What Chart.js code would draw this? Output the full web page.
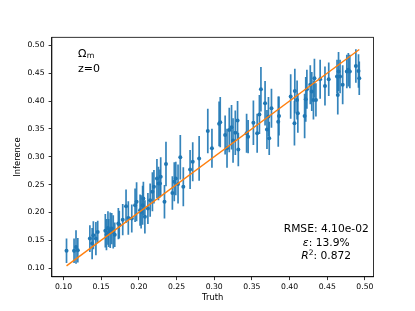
<!DOCTYPE html>
<html><head><meta charset="utf-8">
<script src="https://cdn.jsdelivr.net/npm/chart.js@4/dist/chart.umd.min.js"></script>
<style>html,body{margin:0;padding:0;background:#fff}canvas{display:block}</style>
</head><body>
<canvas id="c" width="415" height="311"></canvas>
<script>
// ---- data ----
const truth = [0.104,0.114,0.1166,0.119,0.135,0.138,0.1396,0.143,0.1454,0.1555,
  0.157,0.159,0.160,0.162,0.164,0.166,0.168,0.1728,0.174,0.1786,
  0.183,0.186,0.1906,0.195,0.197,0.2016,0.203,0.205,0.206,0.208,
  0.212,0.215,0.218,0.220,0.224,0.226,0.228,0.229,0.234,0.236,
  0.2445,0.247,0.249,0.252,0.255,0.259,0.268,0.2715,0.280,0.2915,
  0.297,0.3065,0.308,0.3145,0.317,0.320,0.323,0.325,0.328,0.331,
  0.332,0.343,0.345,0.352,0.357,0.360,0.362,0.3675,0.370,0.372,
  0.373,0.376,0.385,0.386,0.4015,0.4065,0.407,0.410,0.411,0.420,
  0.4215,0.423,0.4275,0.4295,0.4317,0.433,0.435,0.4406,0.447,0.452,
  0.463,0.464,0.465,0.467,0.4705,0.476,0.478,0.480,0.488,0.4915,0.4925];
const inference = [0.131,0.131,0.138,0.132,0.153,0.144,0.159,0.153,0.165,0.167,
  0.160,0.172,0.163,0.168,0.171,0.165,0.160,0.180,0.178,0.187,
  0.211,0.190,0.189,0.213,0.219,0.204,0.201,0.213,0.225,0.192,
  0.207,0.222,0.237,0.246,0.261,0.252,0.252,0.264,0.219,0.287,
  0.235,0.255,0.261,0.251,0.299,0.246,0.277,0.291,0.297,0.346,
  0.315,0.359,0.362,0.339,0.315,0.348,0.353,0.329,0.343,0.365,
  0.313,0.342,0.336,0.361,0.342,0.376,0.421,0.396,0.349,0.372,
  0.333,0.387,0.363,0.373,0.408,0.360,0.418,0.402,0.378,0.373,
  0.403,0.421,0.429,0.417,0.402,0.441,0.402,0.439,0.427,0.439,
  0.444,0.411,0.453,0.444,0.429,0.453,0.456,0.453,0.463,0.454,0.441];
const sigma = [0.022,0.022,0.030,0.022,0.024,0.028,0.025,0.030,0.020,0.030,
  0.028,0.030,0.025,0.032,0.028,0.030,0.022,0.028,0.025,0.028,
  0.030,0.030,0.025,0.030,0.035,0.028,0.030,0.035,0.030,0.030,
  0.028,0.030,0.035,0.030,0.035,0.030,0.025,0.035,0.030,0.040,
  0.030,0.035,0.030,0.035,0.040,0.035,0.035,0.035,0.040,0.040,
  0.035,0.040,0.045,0.035,0.035,0.040,0.040,0.040,0.040,0.035,
  0.030,0.035,0.030,0.040,0.035,0.035,0.040,0.040,0.035,0.035,
  0.030,0.035,0.045,0.035,0.040,0.040,0.040,0.035,0.035,0.040,
  0.040,0.035,0.035,0.035,0.035,0.035,0.030,0.035,0.035,0.030,
  0.030,0.035,0.035,0.030,0.035,0.030,0.030,0.030,0.030,0.030,0.030];
const xTicks = [0.10,0.15,0.20,0.25,0.30,0.35,0.40,0.45,0.50];
const yTicks = [0.10,0.15,0.20,0.25,0.30,0.35,0.40,0.45,0.50];
const xLabel = 'Truth';
const yLabel = 'Inference';
const statRMSE = 'RMSE: 4.10e-02';
const statEps = '13.9%';
const statR2 = '0.872';
const paramName = 'Ω';
const paramSub = 'm';
const redshiftText = 'z=0';

// ---- derived ----
const tMin = Math.min(...truth), tMax = Math.max(...truth);
const identity = [{x:tMin,y:tMin},{x:tMax,y:tMax}];
const points = truth.map((t,i)=>({x:t,y:inference[i]}));

const BLUE = '#1f77b4', ORANGE = '#ff7f0e';
const FONT = "'DejaVu Sans', sans-serif";

const errorBars = {
  id:'errorBars',
  beforeDatasetsDraw(chart){
    const {ctx, chartArea:a, scales:{x,y}} = chart;
    ctx.save();
    ctx.beginPath(); ctx.rect(a.left,a.top,a.right-a.left,a.bottom-a.top); ctx.clip();
    ctx.strokeStyle = 'rgba(31,119,180,0.9)';
    ctx.lineWidth = 1.7;
    truth.forEach((t,i)=>{
      const px = x.getPixelForValue(t);
      ctx.beginPath();
      ctx.moveTo(px, y.getPixelForValue(inference[i]-sigma[i]));
      ctx.lineTo(px, y.getPixelForValue(inference[i]+sigma[i]));
      ctx.stroke();
    });
    ctx.restore();
  }
};

const annotations = {
  id:'annotations',
  afterDraw(chart){
    const {ctx, chartArea:a} = chart;
    const w = a.right-a.left, h = a.bottom-a.top;
    ctx.save();
    ctx.strokeStyle = '#000'; ctx.lineWidth = 0.8;
    ctx.strokeRect(a.left, a.top, w, h);
    ctx.fillStyle = '#000';
    ctx.textBaseline = 'alphabetic';
    ctx.textAlign = 'left';
    ctx.font = '11px ' + FONT;
    const x0 = a.left + 0.081*w;
    ctx.fillText(paramName, x0, a.top + 0.0805*h);
    const ow = ctx.measureText(paramName).width;
    ctx.font = '7.8px ' + FONT;
    ctx.fillText(paramSub, x0 + ow + 0.3, a.top + 0.0805*h + 1.6);
    ctx.font = '11px ' + FONT;
    ctx.fillText(redshiftText, x0, a.top + 0.1435*h);
    const cx = a.left + 0.853*w;
    const drawSegs = (segs, base) => {
      let tot = 0;
      segs.forEach(s=>{ ctx.font = s.f; s.w = ctx.measureText(s.t).width; tot += s.w; });
      let xx = cx - tot/2;
      segs.forEach(s=>{ ctx.font = s.f; ctx.fillText(s.t, xx, base + (s.dy||0)); xx += s.w; });
    };
    const reg = '10.7px ' + FONT, ita = 'italic 10.7px ' + FONT, sup = '7.5px ' + FONT;
    drawSegs([{t:statRMSE,f:reg}], a.top + 0.811*h);
    drawSegs([{t:'ε',f:ita},{t:': '+statEps,f:reg}], a.top + 0.872*h);
    drawSegs([{t:'R',f:ita},{t:'2',f:sup,dy:-4},{t:': '+statR2,f:reg}], a.top + 0.927*h);
    ctx.restore();
  }
};

new Chart(document.getElementById('c'), {
  data:{
    datasets:[
      {type:'line', data:identity, borderColor:ORANGE, borderWidth:1.4, pointRadius:0, fill:false, order:0},
      {type:'scatter', data:points, backgroundColor:BLUE, borderColor:BLUE, pointRadius:2, pointBorderWidth:0, order:1}
    ]
  },
  options:{
    responsive:false, animation:false, devicePixelRatio:1,
    layout:{padding:{left:0, right:41.5, top:37.3, bottom:0}},
    plugins:{legend:{display:false}, tooltip:{enabled:false}},
    scales:{
      x:{type:'linear', min:0.0846, max:0.5114,
        afterBuildTicks: s => { s.ticks = xTicks.map(v=>({value:v})); },
        afterFit: s => { s.height = 34.2; },
        ticks:{callback:v=>v.toFixed(2), color:'#000', font:{family:FONT, size:7.7}, padding:2.5, maxRotation:0, autoSkip:false},
        grid:{display:true, drawOnChartArea:false, drawTicks:true, tickLength:3.3, tickColor:'#000', tickWidth:0.8},
        border:{display:true, color:'#000', width:0.8},
        title:{display:true, text:xLabel, color:'#000', font:{family:FONT, size:8.4}, padding:{top:0,bottom:8}}
      },
      y:{type:'linear', min:0.0844, max:0.5144,
        afterBuildTicks: s => { s.ticks = yTicks.map(v=>({value:v})); },
        afterFit: s => { s.width = 51.9; },
        ticks:{callback:v=>v.toFixed(2), color:'#000', font:{family:FONT, size:7.7}, padding:4, autoSkip:false},
        grid:{display:true, drawOnChartArea:false, drawTicks:true, tickLength:3.3, tickColor:'#000', tickWidth:0.8},
        border:{display:true, color:'#000', width:0.8},
        title:{display:true, text:yLabel, color:'#000', font:{family:FONT, size:8.4}, padding:{top:12.5,bottom:0}}
      }
    }
  },
  plugins:[errorBars, annotations]
});
</script>
</body></html>
